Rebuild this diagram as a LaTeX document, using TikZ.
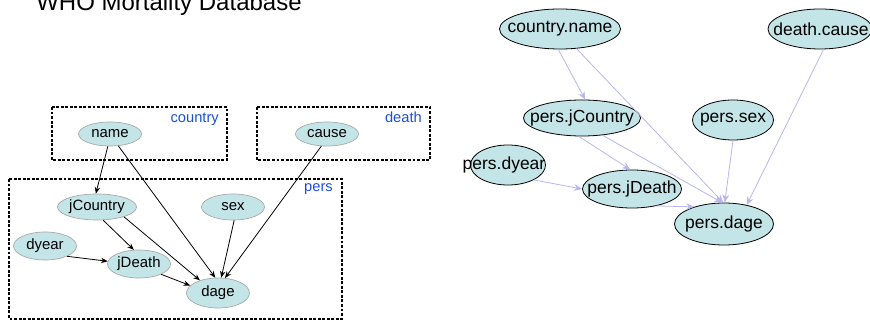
\documentclass[tikz,border=0pt]{standalone}
\usepackage{fontspec}
\setmainfont{Liberation Sans}
\usetikzlibrary{arrows.meta,shapes.geometric}
\definecolor{ellfill}{HTML}{C4E5E7}
\definecolor{lblue}{HTML}{1A50D8}
\definecolor{lav}{HTML}{B8B6EC}
\tikzset{
  ell/.style n args={2}{ellipse, fill=ellfill, inner sep=0pt, minimum width=#1*0.75pt, minimum height=#2*0.75pt},
  lell/.style={draw=gray!70, line width=0.5pt},
  rell/.style={draw=black, line width=0.6pt},
  ltext/.style={font=\fontsize{11.2pt}{13pt}\selectfont, inner sep=0pt},
  rtext/.style={font=\fontsize{13.1pt}{15pt}\selectfont, inner sep=0pt},
  boxlbl/.style={font=\fontsize{11pt}{13pt}\selectfont, text=lblue, inner sep=0pt, anchor=east},
  dbox/.style={draw=black, line width=1.4pt, dash pattern=on 2.2pt off 1.2pt},
  larr/.style={draw=black, line width=0.6pt, -{Stealth[length=5pt,width=4pt]}},
  rarr/.style={draw=lav, line width=0.6pt, -{Stealth[length=6pt,width=5pt]}}
}
\begin{document}
\begin{tikzpicture}[x=0.75pt,y=-0.75pt]
\useasboundingbox (0,0) rectangle (870,320);
% title
\node[anchor=base west, inner sep=0pt, font=\fontsize{18pt}{20pt}\selectfont] (title) at (36,11) {WHO Mortality Database};
% boxes
\draw[dbox] (52,107) rectangle (227,160);
\draw[dbox] (257,107) rectangle (430,160);
\draw[dbox] (9,179) rectangle (342,319);
\node[boxlbl] (lcountry) at (219,119) {country};
\node[boxlbl] (ldeath) at (422,117) {death};
\node[boxlbl] (lpers) at (333,189) {pers};
% left ellipses
\node[ell={63}{24}, lell] (name) at (110,134) {};
\node[ell={63}{24}, lell] (cause) at (327,134) {};
\node[ell={79}{26}, lell] (jcountry) at (97,207) {};
\node[ell={63}{26}, lell] (sex) at (233,207) {};
\node[ell={63}{28}, lell] (dyear) at (45,246) {};
\node[ell={63}{28}, lell] (jdeath) at (139,264) {};
\node[ell={63}{30}, lell] (dage) at (218,293) {};
\node[ltext] (tname) at (name) {name};
\node[ltext] (tcause) at (cause) {cause};
\node[ltext] (tjcountry) at (jcountry) {jCountry};
\node[ltext] (tsex) at (sex) {sex};
\node[ltext] (tdyear) at (dyear) {dyear};
\node[ltext] (tjdeath) at (jdeath) {jDeath};
\node[ltext] (tdage) at (dage) {dage};
% left arrows
\draw[larr] (name.-100) -- (jcountry.95);
\draw[larr] (name.-55) -- (dage.100);
\draw[larr] (cause.-115) -- (dage.65);
\draw[larr] (jcountry.-65) -- (jdeath.110);
\draw[larr] (jcountry.-20) -- (dage.145);
\draw[larr] (sex.-85) -- (dage.78);
\draw[larr] (dyear.-25) -- (jdeath.175);
\draw[larr] (jdeath.-25) -- (dage.165);
% right ellipses
\node[ell={121}{40}, rell] (cn) at (560,29) {};
\node[ell={104}{40}, rell] (dc) at (820,29) {};
\node[ell={117}{36}, rell] (pjc) at (582,118) {};
\node[ell={81}{40}, rell] (ps) at (733,120) {};
\node[ell={75}{40}, rell] (pdy) at (508,165) {};
\node[ell={99}{38}, rell] (pjd) at (632,189) {};
\node[ell={99}{42}, rell] (pdg) at (724,224) {};
\node[rtext] (tcn) at (cn) {country.name};
\node[rtext] (tdc) at (821,29) {death.cause};
\node[rtext] (tpjc) at (pjc) {pers.jCountry};
\node[rtext] (tps) at (ps) {pers.sex};
\node[rtext] (tpdy) at (504,165) {pers.dyear};
\node[rtext] (tpjd) at (pjd) {pers.jDeath};
\node[rtext] (tpdg) at (pdg) {pers.dage};
% right arrows
\draw[rarr] (cn.-95) -- (pjc.80);
\draw[rarr] (cn.-50) -- (pdg.92);
\draw[rarr] (dc.-80) -- (pdg.40);
\draw[rarr] (pjc.-100) -- (pjd.95);
\draw[rarr] (pjc.-40) -- (pdg.95);
\draw[rarr] (ps.-90) -- (pdg.88);
\draw[rarr] (pdy.-30) -- (pjd.180);
\draw[rarr] (pjd.-35) -- (pdg.150);
\end{tikzpicture}
\end{document}
